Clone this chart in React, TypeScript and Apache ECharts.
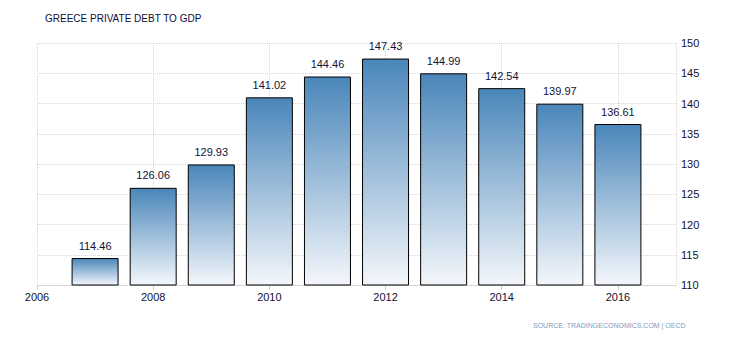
import React, { useEffect, useRef } from "react";
import * as echarts from "echarts";

const years = [2007, 2008, 2009, 2010, 2011, 2012, 2013, 2014, 2015, 2016];
const values = [114.46, 126.06, 129.93, 141.02, 144.46, 147.43, 144.99, 142.54, 139.97, 136.61];
const titleText = "GREECE PRIVATE DEBT TO GDP";
const sourceText = "SOURCE: TRADINGECONOMICS.COM | OECD";

export default function App() {
  const ref = useRef<HTMLDivElement>(null);
  useEffect(() => {
    if (!ref.current) return;
    const chart = echarts.init(ref.current, null, { renderer: "svg" });
    const font = "'Liberation Sans', Arial, sans-serif";
    chart.setOption({
      animation: false,
      backgroundColor: "#ffffff",
      textStyle: { fontFamily: font },
      graphic: [
        {
          type: "text",
          left: 45,
          top: 13,
          style: { text: titleText, fill: "#0d0d3a", font: "10px " + font },
        },
        {
          type: "text",
          left: 533,
          top: 322,
          style: { text: sourceText, fill: "#7f9cbf", font: "7px " + font },
        },
      ],
      grid: { left: 37, right: 54, top: 43, bottom: 55, containLabel: false },
      xAxis: {
        type: "value",
        min: 2006,
        max: 2017,
        interval: 2,
        axisLine: { show: true, lineStyle: { color: "#cccccc", type: "dotted" } },
        axisTick: { show: true, length: 5, lineStyle: { color: "#cccccc" } },
        axisLabel: {
          showMaxLabel: false,
          color: "#111133",
          fontSize: 11,
          margin: 6,
          fontFamily: font,
          formatter: (v: number) => String(v),
        },
        splitLine: { show: true, lineStyle: { color: "#d6d6d6", type: "dotted" } },
      },
      yAxis: {
        type: "value",
        position: "right",
        min: 110,
        max: 150,
        interval: 5,
        axisLine: { show: false },
        axisTick: { show: false },
        axisLabel: { color: "#111133", fontSize: 11, margin: 5, fontFamily: font },
        splitLine: { show: true, lineStyle: { color: "#d6d6d6", type: "dotted" } },
      },
      series: [
        {
          type: "bar",
          data: years.map((y, i) => [y, values[i]]),
          barWidth: 47,
          itemStyle: {
            borderColor: "#000000",
            borderWidth: 1,
            color: new echarts.graphic.LinearGradient(0, 0, 0, 1, [
              { offset: 0, color: "#4a86ba" },
              { offset: 1, color: "#f4f7fb" },
            ]),
          },
          label: {
            show: true,
            position: "top",
            distance: 7,
            color: "#111133",
            fontSize: 11,
            fontFamily: font,
            formatter: (p: any) => p.value[1].toFixed(2),
          },
        },
      ],
    });
    return () => chart.dispose();
  }, []);
  return (
    <div
      ref={ref}
      style={{ position: "absolute", left: 0, top: 0, width: 730, height: 340 }}
    />
  );
}
